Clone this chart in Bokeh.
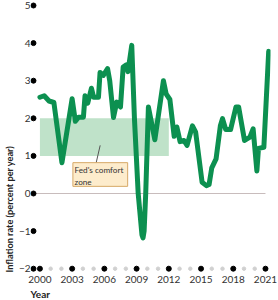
from bokeh.plotting import figure
from bokeh.models import Range1d, FixedTicker, Title
from bokeh.core.properties import value
from bokeh.embed import file_html
from bokeh.resources import INLINE

# ---- data ----
years = [2000.0, 2000.4, 2000.85, 2001.3, 2002.05, 2003.0, 2003.3, 2003.6, 2004.05,
         2004.2, 2004.45, 2004.8, 2005.0, 2005.45, 2005.6, 2005.9, 2006.3, 2006.5,
         2006.85, 2007.15, 2007.5, 2007.75, 2008.05, 2008.2, 2008.55, 2008.8,
         2009.15, 2009.5, 2009.6, 2009.7, 2009.85, 2010.1, 2010.7, 2011.5, 2011.75,
         2012.1, 2012.5, 2012.75, 2013.05, 2013.4, 2013.7, 2014.2, 2014.5, 2015.1,
         2015.5, 2015.75, 2016.0, 2016.4, 2016.8, 2017.0, 2017.3, 2017.75, 2018.25,
         2018.5, 2019.05, 2019.55, 2019.85, 2020.2, 2020.35, 2020.85, 2021.3]
inflation = [2.56, 2.6, 2.46, 2.42, 0.82, 2.52, 1.92, 2.03, 2.03,
             2.6, 2.4, 2.8, 2.56, 2.56, 3.22, 3.14, 3.32, 3.0,
             2.02, 2.43, 2.3, 3.36, 3.42, 3.24, 3.94, 2.0,
             0.0, -1.1, -1.18, -1.0, 0.0, 2.3, 1.43, 3.0, 2.65,
             2.5, 1.52, 1.77, 1.38, 1.41, 1.28, 1.8, 1.63, 0.3,
             0.21, 0.24, 0.68, 0.92, 1.8, 1.99, 1.7, 1.7, 2.3,
             2.3, 1.41, 1.5, 1.72, 0.6, 1.2, 1.23, 3.78]

comfort_low = 1
comfort_high = 2
comfort_start = 2000
comfort_end = 2012

y_ticks = [-2, -1, 0, 1, 2, 3, 4, 5]
x_ticks = [2000, 2003, 2006, 2009, 2012, 2015, 2018, 2021]
x_minor = [y for y in range(2000, 2022) if y not in x_ticks]

LINE = "#0c9050"
BAND = "#bfe2c9"
FONT = "Lato"

p = figure(width=278, height=300, output_backend="svg", toolbar_location=None,
           x_range=Range1d(1999.123, 2021.468), y_range=Range1d(-2.101, 5.133),
           min_border_left=28, min_border_right=8, min_border_top=0,
           min_border_bottom=28, background_fill_color="white")
p.outline_line_color = None
p.xgrid.visible = False
p.ygrid.visible = False

for ax in (p.xaxis, p.yaxis):
    ax.axis_line_color = None
    ax.major_tick_line_color = None
    ax.minor_tick_line_color = None
    ax.major_tick_in = 0
    ax.major_tick_out = 0
    ax.major_label_text_font = FONT
    ax.major_label_text_font_size = "10px"
    ax.major_label_text_color = "#333333"

p.yaxis.ticker = FixedTicker(ticks=y_ticks)
p.yaxis.major_label_overrides = {-2: "\u22122", -1: "\u22121"}
p.yaxis.major_label_standoff = 0
p.xaxis.ticker = FixedTicker(ticks=x_ticks)
p.xaxis.major_label_standoff = 3

# comfort band
p.quad(left=[comfort_start], right=[comfort_end], bottom=[comfort_low], top=[comfort_high],
       fill_color=BAND, line_color=None)

# zero line
p.line(x=[1999.5, 2021], y=[0, 0], line_color="#c8bcbc", line_width=1)

# axis dots
axis_x = 1999.4
p.scatter(x=[axis_x] * len(y_ticks), y=y_ticks, size=5, color="black")
p.scatter(x=x_ticks, y=[y_ticks[0]] * len(x_ticks), size=5, color="black")
p.scatter(x=x_minor, y=[y_ticks[0]] * len(x_minor), size=3.5, color="#d0d0d0")

# inflation line
p.line(years, inflation, line_color=LINE, line_width=5, line_join="round", line_cap="round")

# annotation box
p.segment(x0=[2005.24], y0=[0.82], x1=[2005.61], y1=[1.28], line_color="#555555", line_width=1)
p.quad(left=[2003.07], right=[2008.17], top=[0.82], bottom=[0.19],
       fill_color="#fdeccc", line_color="#d6a866", line_width=1)
p.text(x=[2003.22], y=[0.76], text=["Fed's comfort\nzone"], text_font=value(FONT),
       text_font_size="8.2px", text_color="#333333", text_align="left",
       text_baseline="top", text_line_height=1.25)

# axis titles
p.add_layout(Title(text="Inflation rate (percent per year)", align="left",
                   text_font=FONT, text_font_style="bold", text_font_size="9.2px",
                   text_color="#222222", standoff=2), "left")
p.add_layout(Title(text="Year", align="left", text_font=FONT, text_font_style="bold",
                   text_font_size="10px", text_color="#222222", standoff=0), "below")

open("out.html", "w").write(file_html(p, INLINE))
